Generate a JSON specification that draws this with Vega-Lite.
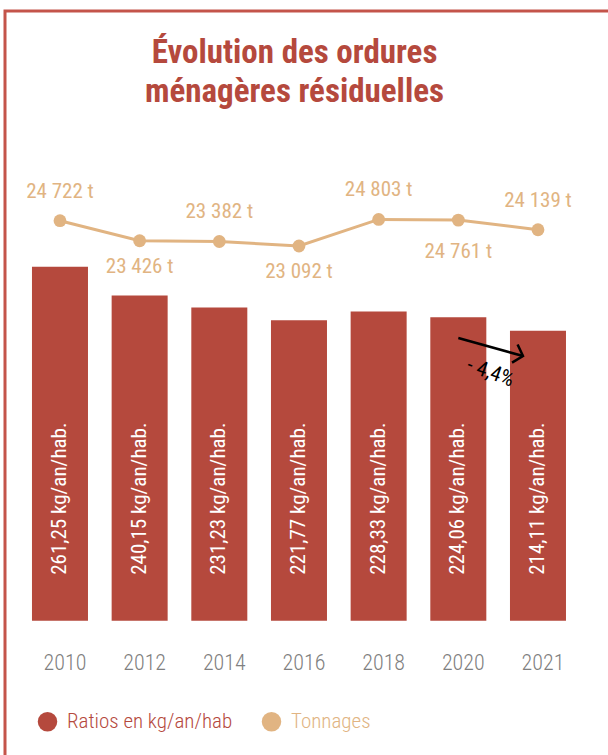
{
  "$schema": "https://vega.github.io/schema/vega-lite/v6.json",
  "width": 603,
  "height": 744,
  "autosize": "none",
  "padding": {"left": 5, "top": 11, "right": 0, "bottom": 0},
  "background": "white",
  "config": {
    "view": {"stroke": "#c4544a", "strokeWidth": 3, "strokeDash": [603, 1347, 744, 10]},
    "font": "Roboto Condensed"
  },
  "title": {
    "text": ["Évolution des ordures", "ménagères résiduelles"],
    "anchor": "middle",
    "frame": "group",
    "offset": -98,
    "dx": -12,
    "fontSize": 33,
    "font": "Roboto Condensed",
    "fontWeight": "bold",
    "color": "#b5493d",
    "lineHeight": 39
  },
  "data": {
    "values": [
      {"year": "2010", "ratio": 261.25, "ratioLabel": "261,25 kg/an/hab.", "tonnage": 24722, "tonnageLabel": "24 722 t"},
      {"year": "2012", "ratio": 240.15, "ratioLabel": "240,15 kg/an/hab.", "tonnage": 23426, "tonnageLabel": "23 426 t"},
      {"year": "2014", "ratio": 231.23, "ratioLabel": "231,23 kg/an/hab.", "tonnage": 23382, "tonnageLabel": "23 382 t"},
      {"year": "2016", "ratio": 221.77, "ratioLabel": "221,77 kg/an/hab.", "tonnage": 23092, "tonnageLabel": "23 092 t"},
      {"year": "2018", "ratio": 228.33, "ratioLabel": "228,33 kg/an/hab.", "tonnage": 24803, "tonnageLabel": "24 803 t"},
      {"year": "2020", "ratio": 224.06, "ratioLabel": "224,06 kg/an/hab.", "tonnage": 24761, "tonnageLabel": "24 761 t"},
      {"year": "2021", "ratio": 214.11, "ratioLabel": "214,11 kg/an/hab.", "tonnage": 24139, "tonnageLabel": "24 139 t"}
    ]
  },
  "layer": [
    {
      "layer": [
        {
          "mark": {"type": "bar"},
          "encoding": {
            "x": {
              "field": "year",
              "type": "ordinal",
              "scale": {"paddingInner": 0.297, "paddingOuter": 0.433, "align": 0.391},
              "axis": {
                "orient": "bottom",
                "offset": -93,
                "domain": false,
                "ticks": false,
                "tickSize": 0,
                "grid": false,
                "labelPadding": 0,
                "labelBaseline": "middle",
                "labelAngle": 0,
                "labelFontSize": 22,
                "labelFontWeight": 300,
                "labelColor": "#808080",
                "labelFont": "Roboto Condensed",
                "labelOffset": 5,
                "title": null
              }
            },
            "y": {"field": "ratio", "type": "quantitative", "scale": {"domain": [-99, 450], "nice": false, "zero": false}, "axis": null},
            "color": {
              "datum": "Ratios en kg/an/hab",
              "scale": {"domain": ["Ratios en kg/an/hab", "Tonnages"], "range": ["#b5493d", "#e1b482"]},
              "legend": {
                "orient": "none",
                "legendX": 32,
                "legendY": 700,
                "direction": "horizontal",
                "title": null,
                "padding": 0,
                "symbolType": "circle",
                "symbolSize": 380,
                "symbolStrokeWidth": 0,
                "labelFontSize": 21,
                "labelFontWeight": 300,
                "labelFont": "Roboto Condensed",
                "labelLimit": 400,
                "labelOffset": 9,
                "columnPadding": 28,
                "encode": {
                  "labels": {"update": {"fill": {"signal": "datum.label === 'Tonnages' ? '#e1b482' : '#b5493d'"}}}
                }
              }
            }
          }
        },
        {
          "mark": {"type": "text", "angle": 270, "align": "left", "baseline": "middle", "dx": 46, "color": "white", "fontSize": 21, "font": "Roboto Condensed"},
          "encoding": {
            "x": {"field": "year", "type": "ordinal"},
            "y": {"datum": 0, "type": "quantitative"},
            "text": {"field": "ratioLabel"}
          }
        },
        {
          "data": {"values": [{"from": "2020", "to": "2021", "label": "- 4,4%"}]},
          "mark": {"type": "rule", "color": "black", "strokeWidth": 2.5, "x2Offset": -15},
          "encoding": {
            "x": {"field": "from", "type": "ordinal"},
            "x2": {"field": "to"},
            "y": {"datum": 208.7, "type": "quantitative"},
            "y2": {"datum": 195.4}
          }
        },
        {
          "data": {"values": [{"from": "2020", "to": "2021", "label": "- 4,4%"}]},
          "mark": {"type": "point", "shape": "M-0.9,-1L0,0L-0.9,1", "filled": false, "color": "black", "strokeWidth": 2.5, "size": 360, "angle": 17, "opacity": 1, "xOffset": -15},
          "encoding": {
            "x": {"field": "to", "type": "ordinal"},
            "y": {"datum": 195.4, "type": "quantitative"}
          }
        },
        {
          "data": {"values": [{"from": "2020", "to": "2021", "label": "- 4,4%"}]},
          "mark": {"type": "text", "angle": 20, "align": "center", "baseline": "middle", "color": "black", "fontSize": 21, "font": "Roboto Condensed", "xOffset": 32},
          "encoding": {
            "x": {"field": "from", "type": "ordinal"},
            "y": {"datum": 183, "type": "quantitative"},
            "text": {"field": "label"}
          }
        }
      ]
    },
    {
      "layer": [
        {
          "mark": {"type": "line", "color": "#e1b482", "strokeWidth": 3},
          "encoding": {
            "x": {"field": "year", "type": "ordinal"},
            "y": {"field": "tonnage", "type": "quantitative", "scale": {"domain": [-9749, 38251], "nice": false, "zero": false}, "axis": null}
          }
        },
        {
          "mark": {"type": "point", "filled": true, "shape": "circle", "size": 165, "opacity": 1},
          "encoding": {
            "x": {"field": "year", "type": "ordinal"},
            "y": {"field": "tonnage", "type": "quantitative"},
            "color": {"datum": "Tonnages"}
          }
        },
        {
          "transform": [{"filter": "indexof(['2010','2014','2018','2021'], datum.year) >= 0"}],
          "mark": {"type": "text", "dy": -29, "baseline": "middle", "align": "center", "color": "#e1b482", "fontSize": 21, "font": "Roboto Condensed"},
          "encoding": {
            "x": {"field": "year", "type": "ordinal"},
            "y": {"field": "tonnage", "type": "quantitative"},
            "text": {"field": "tonnageLabel"}
          }
        },
        {
          "transform": [{"filter": "indexof(['2012','2016'], datum.year) >= 0"}],
          "mark": {"type": "text", "dy": 26, "baseline": "middle", "align": "center", "color": "#e1b482", "fontSize": 21, "font": "Roboto Condensed"},
          "encoding": {
            "x": {"field": "year", "type": "ordinal"},
            "y": {"field": "tonnage", "type": "quantitative"},
            "text": {"field": "tonnageLabel"}
          }
        },
        {
          "transform": [{"filter": "datum.year === '2020'"}],
          "mark": {"type": "text", "dy": 32, "baseline": "middle", "align": "center", "color": "#e1b482", "fontSize": 21, "font": "Roboto Condensed"},
          "encoding": {
            "x": {"field": "year", "type": "ordinal"},
            "y": {"field": "tonnage", "type": "quantitative"},
            "text": {"field": "tonnageLabel"}
          }
        }
      ]
    }
  ],
  "resolve": {"scale": {"y": "independent"}}
}
